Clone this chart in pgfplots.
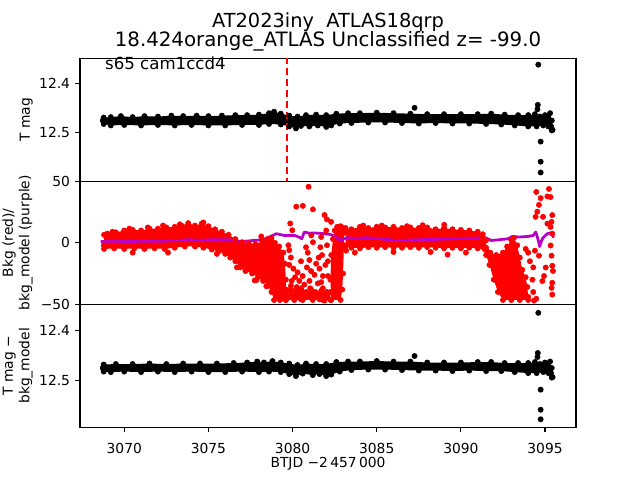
\documentclass[border=0pt]{standalone}
\usepackage{fontspec}
\setmainfont{DejaVu Sans}
\usepackage{pgfplots}
\usepackage{pgfplotstable}
\pgfplotsset{compat=1.18}
\definecolor{mplred}{RGB}{255,0,0}
\definecolor{mplpurple}{RGB}{185,0,200}

\pgfplotsset{
  panel/.style={
    scale only axis, width=4.96in, height=1.23in,
    anchor=south west,
    xmin=3067.37, xmax=3096.84,
    axis line style={line width=0.8pt},
    tick align=outside, major tick length=3.5pt,
    every tick/.style={black, line width=0.8pt},
    ytick pos=left, xtick pos=left,
    tick label style={font=\fontsize{10}{12}\selectfont},
    yticklabel style={anchor=east, inner sep=0pt, xshift=-3.5pt},
    xticklabel style={anchor=base, inner sep=0pt},
    ylabel style={at={(axis description cs:-0.0948,0.5)}, anchor=south,
      inner sep=0pt, align=center, font=\fontsize{10}{12}\selectfont},
  },
  dots/.style={only marks, mark=*, mark size=1.9pt},
}

% outline of the dense black band, T mag (top panel)
\pgfplotstableread{
x y
3068.72 12.475
3068.78 12.469
3069.2 12.468
3069.8 12.466
3070.5 12.468
3071.2 12.466
3072.0 12.467
3072.8 12.465
3073.5 12.466
3074.3 12.465
3075.0 12.466
3075.8 12.465
3076.6 12.464
3077.3 12.464
3078.0 12.463
3078.6 12.460
3078.9 12.457
3079.3 12.461
3079.8 12.465
3080.3 12.467
3080.8 12.464
3081.4 12.463
3082.0 12.464
3082.6 12.461
3083.3 12.460
3084.0 12.460
3085.0 12.459
3086.0 12.460
3087.0 12.461
3088.0 12.462
3089.0 12.462
3090.0 12.462
3091.0 12.462
3091.8 12.461
3092.6 12.463
3093.4 12.464
3094.0 12.464
3094.4 12.462
3094.7 12.467
3095.0 12.464
3095.3 12.460
3095.4 12.475
3095.35 12.486
3095.4 12.495
3095.2 12.487
3094.9 12.485
3094.5 12.487
3094.0 12.487
3093.2 12.485
3092.4 12.483
3091.5 12.482
3090.5 12.481
3089.5 12.481
3088.5 12.480
3087.5 12.481
3086.5 12.480
3085.5 12.479
3084.5 12.479
3083.5 12.480
3082.8 12.481
3082.3 12.485
3082.0 12.488
3081.5 12.485
3081.0 12.487
3080.5 12.486
3080.2 12.491
3079.8 12.487
3079.3 12.483
3078.6 12.482
3078.0 12.484
3077.0 12.484
3076.0 12.485
3075.0 12.485
3074.0 12.484
3073.0 12.485
3072.0 12.484
3071.0 12.485
3070.0 12.484
3069.2 12.485
3068.78 12.482
}\topband

% outline of the dense black band, T mag - bkg_model (bottom panel)
\pgfplotstableread{
x y
3068.72 12.475
3068.78 12.468
3069.5 12.467
3070.5 12.467
3071.5 12.466
3072.5 12.467
3073.5 12.466
3074.5 12.466
3075.5 12.466
3076.5 12.465
3077.3 12.464
3077.9 12.462
3078.3 12.464
3078.8 12.461
3079.3 12.464
3079.8 12.466
3080.3 12.469
3080.8 12.466
3081.4 12.467
3082.0 12.467
3082.6 12.463
3083.3 12.462
3084.0 12.462
3085.0 12.461
3086.0 12.462
3087.0 12.462
3088.0 12.464
3089.0 12.464
3090.0 12.464
3091.0 12.463
3091.8 12.463
3092.6 12.465
3093.4 12.465
3094.0 12.465
3094.4 12.463
3094.7 12.467
3095.0 12.464
3095.3 12.462
3095.4 12.475
3095.35 12.485
3095.4 12.494
3095.2 12.485
3094.9 12.483
3094.5 12.485
3094.0 12.485
3093.2 12.483
3092.4 12.481
3091.5 12.481
3090.5 12.480
3089.5 12.481
3088.5 12.480
3087.5 12.480
3086.5 12.479
3085.5 12.478
3084.5 12.478
3083.5 12.479
3082.8 12.482
3082.3 12.488
3082.0 12.491
3081.6 12.487
3081.2 12.489
3080.6 12.486
3080.2 12.491
3079.8 12.487
3079.3 12.483
3078.6 12.482
3078.0 12.483
3077.0 12.482
3076.0 12.483
3075.0 12.483
3074.0 12.482
3073.0 12.483
3072.0 12.482
3071.0 12.483
3070.0 12.482
3069.2 12.483
3068.78 12.482
}\botband

% dense parts of the red background cloud
\pgfplotstableread{
x y
3068.78 -2
3068.8 6.5
3069.0 7.5
3069.5 8.5
3070.0 10
3070.5 10.5
3071.0 10
3071.5 11.5
3072.0 11.5
3072.5 12.5
3073.0 13
3073.4 14
3073.8 16
3074.2 14
3074.6 15.5
3075.0 13.5
3075.4 11
3075.8 9
3076.2 6.5
3076.6 3
3077.0 0.5
3077.4 -0.5
3077.8 -1
3078.2 1
3078.5 3
3078.75 4
3078.95 0
3079.2 -3
3079.45 -8
3079.55 -17
3079.6 -30
3079.6 -46.5
3079.25 -46.5
3078.9 -46.5
3078.75 -40
3078.55 -35
3078.25 -31
3077.95 -28
3077.6 -25
3077.2 -23
3076.9 -20
3076.6 -15
3076.3 -12
3076.0 -9
3075.6 -7
3075.2 -5.5
3074.7 -4
3074.2 -3
3073.6 -3
3073.0 -4
3072.4 -5
3071.8 -4.5
3071.2 -5
3070.6 -4.5
3070.0 -5
3069.4 -4.5
3068.8 -5
}\redA
\pgfplotstableread{
x y
3079.6 -46.5
3079.6 -38
3079.9 -35
3080.2 -39
3080.5 -37
3080.8 -40
3081.1 -38
3081.4 -41
3081.7 -39
3082.0 -41
3082.25 -40
3082.25 -46.5
3081.8 -46.5
3081.2 -46.5
3080.6 -46.5
3080.1 -46.5
}\redB
\pgfplotstableread{
x y
3082.3 -46.5
3082.25 -30
3082.3 -10
3082.4 3
3082.5 10
3082.65 13
3082.85 13.5
3083.0 12
3083.05 8
3083.05 -2
3083.0 -25
3082.95 -38
3082.85 -46.5
}\redC
\pgfplotstableread{
x y
3083.15 12
3083.5 11
3084.0 13
3084.5 12
3085.0 13
3085.5 12.5
3086.0 13
3086.5 12
3087.0 12.5
3087.5 12
3088.0 12.5
3088.5 11
3089.0 12
3089.5 11
3090.0 10.5
3090.5 10
3091.0 9
3091.3 7
3091.5 2
3091.5 -6
3091.0 -4.5
3090.5 -4
3090.0 -4.5
3089.5 -4
3089.0 -4.5
3088.5 -4
3088.0 -3.5
3087.5 -4
3087.0 -3.5
3086.5 -4
3086.0 -4
3085.5 -3.5
3085.0 -4
3084.5 -3.5
3084.0 -4.5
3083.5 -4
3083.15 -3
}\redD
\pgfplotstableread{
x y
3091.3 4
3091.5 -4
3091.75 -8
3092.1 -10
3092.5 -8
3092.75 -3
3093.0 2
3093.15 4
3093.35 -2
3093.5 -12
3093.65 -22
3093.85 -28
3093.95 -36
3094.0 -44
3094.0 -46.5
3093.5 -46.5
3093.0 -46.5
3092.5 -46.5
3092.2 -40
3091.95 -30
3091.7 -18
3091.5 -10
3091.4 -5
}\redE

\begin{document}
\begin{tikzpicture}
\path[use as bounding box] (0,0) rectangle (6.4in,4.8in);

% ---- top panel: T mag
\begin{axis}[panel, name=top, at={(0.8in,2.987in)},
    y dir=reverse, ymin=12.348, ymax=12.599,
    ytick={12.4,12.5}, yticklabels={12.4,12.5},
    xtick=\empty, ylabel={T mag}]
  \addplot[fill=black, draw=none] table {\topband};
  \addplot[dots, black] table {\topband};
  \addplot[dots, black] coordinates {
    (3094.60,12.361) (3094.57,12.443) (3094.74,12.518) (3094.74,12.559)
    (3094.74,12.581) (3087.25,12.449) (3094.55,12.452) (3095.45,12.494)
  };
  \addplot[mplred, line width=1.5pt, dash pattern=on 5.55pt off 2.4pt]
    coordinates {(3079.69,12.30) (3079.69,12.65)};
\end{axis}

% ---- middle panel: background
\begin{axis}[panel, name=mid, at={(0.8in,1.757in)},
    ymin=-50, ymax=50,
    ytick={-50,0,50}, yticklabels={−50,0,50},
    xtick=\empty, ylabel={Bkg (red)/\\bkg\_model (purple)}]
  \addplot[fill=mplred, draw=none] table {\redA};
  \addplot[dots, mplred] table {\redA};
  \addplot[fill=mplred, draw=none] table {\redB};
  \addplot[dots, mplred] table {\redB};
  \addplot[fill=mplred, draw=none] table {\redC};
  \addplot[dots, mplred] table {\redC};
  \addplot[fill=mplred, draw=none] table {\redD};
  \addplot[dots, mplred] table {\redD};
  \addplot[fill=mplred, draw=none] table {\redE};
  \addplot[dots, mplred] table {\redE};
  % scattered background points
  \addplot[dots, mplred] coordinates {
    (3069.3,9) (3070.3,11.5) (3071.4,12.5) (3072.3,14) (3073.3,15)
    (3074.7,16.5) (3070.5,-8) (3072.6,-8)
    (3075.5,-9) (3076.7,-20) (3077.75,-30.6) (3077.85,-30.3)
    (3078.14,5.2) (3078.44,-35.3)
    (3079.86,15.7) (3079.98,10.2) (3080.22,29.4) (3080.61,30.0)
    (3080.95,45.6) (3081.21,27.2) (3081.90,22.6) (3082.04,19.0)
    (3082.29,17.0)
    (3079.75,-2) (3079.8,-6) (3079.9,-12) (3079.8,-18) (3080.05,-21)
    (3080.3,-24) (3080.15,-28) (3079.95,-31) (3080.4,-31) (3080.25,-36)
    (3080.5,-38) (3080.1,-41) (3079.85,-44) (3080.5,-46) (3080.8,-3.6)
    (3080.9,-8) (3081.0,-14) (3080.85,-20) (3081.1,-23) (3081.0,-31)
    (3081.05,-37) (3080.8,-44) (3081.3,-26) (3081.4,-17) (3081.35,-40)
    (3081.55,-12) (3081.5,-33) (3081.6,-46) (3081.7,4.7) (3081.65,-3.6)
    (3081.75,-10) (3081.6,-21) (3081.8,-27) (3081.7,-32) (3081.8,-37)
    (3081.65,-43) (3081.9,-47) (3082.0,10) (3082.05,-2) (3082.1,-15)
    (3081.95,-18) (3082.1,-27) (3082.05,-40) (3080.5,-15) (3080.6,-27)
    (3080.7,-34) (3081.11,6.0) (3081.21,0.5)
    (3083.18,-6.4) (3083.7,-8) (3084.2,14) (3085.3,14) (3086.0,-7.5)
    (3086.8,13.5) (3087.73,14.3) (3088.2,-7.5) (3089.01,14.6)
    (3089.21,-9.6) (3090.3,-8)
    (3093.85,-5) (3094.0,-8) (3094.1,-15) (3094.3,-20) (3094.25,-30)
    (3094.3,-40) (3094.35,-47)
    (3094.40,-6.4) (3094.44,21.1) (3094.48,41.3) (3094.48,-45.5)
    (3094.54,25.3) (3094.64,30.8) (3094.64,-10.5) (3094.74,36.3)
    (3094.84,-31.1) (3094.88,21.1) (3094.94,-27.0) (3095.04,-20.1)
    (3095.14,15.6) (3095.14,37.7) (3095.23,43.8) (3095.33,37.2)
    (3095.33,12.9) (3095.33,-2.2) (3095.39,17.0) (3095.39,-10.5)
    (3095.39,-36.6) (3095.43,22.5) (3095.43,7.4) (3095.43,-18.7)
    (3095.43,-32.5) (3095.43,-42.1) (3095.47,-22.9)
  };
  % background model
  \addplot[mplpurple, line width=2pt, line join=round] coordinates {
    (3068.6,1.0) (3069.3,1.3) (3070.2,1.0) (3071.2,1.3) (3072.2,1.3)
    (3073.0,1.8) (3073.8,2.5) (3074.5,2.0) (3075.2,2.5) (3076.2,2.5)
    (3076.7,1.5) (3077.0,1.0) (3077.75,2.0) (3078.2,2.5) (3078.54,4.1)
    (3079.03,7.4) (3079.5,6.0) (3080.12,6.0) (3080.4,4.5) (3080.55,3.3)
    (3080.7,8.8) (3081.0,7.8) (3081.3,8.0) (3081.8,7.5) (3082.2,6.9)
    (3082.5,5.5) (3082.69,3.3) (3082.9,1.9) (3083.2,4.1) (3083.8,3.5)
    (3084.37,4.1) (3085.2,3.3) (3086.15,1.9) (3087.53,2.5) (3088.5,2.8)
    (3089.5,3.3) (3090.5,3.6) (3091.48,4.1) (3091.8,1.9) (3092.3,2.5)
    (3092.8,3.3) (3093.06,5.2) (3093.46,4.7) (3094.0,5.2) (3094.3,6.0)
    (3094.45,8.8) (3094.6,2.0) (3094.68,-3.1) (3094.8,2.0) (3094.88,4.1)
    (3095.14,7.4) (3095.33,8.0) (3095.43,7.5) (3095.5,4.1)
  };
\end{axis}

% ---- bottom panel: T mag minus model
\begin{axis}[panel, name=bot, at={(0.8in,0.527in)},
    y dir=reverse, ymin=12.348, ymax=12.593,
    ytick={12.4,12.5}, yticklabels={12.4,12.5},
    xtick={3070,3075,3080,3085,3090,3095},
    xticklabels={3070,3075,3080,3085,3090,3095},
    xticklabel style={yshift=-15.2pt},
    xlabel={BTJD −2\,457\,000},
    xlabel style={at={(axis description cs:0.5,0)}, anchor=base,
      inner sep=0pt, yshift=-28.9pt, font=\fontsize{10}{12}\selectfont},
    ylabel={T mag −\\bkg\_model}]
  \addplot[fill=black, draw=none] table {\botband};
  \addplot[dots, black] table {\botband};
  \addplot[dots, black] coordinates {
    (3094.60,12.365) (3094.57,12.445) (3094.74,12.518) (3094.74,12.558)
    (3094.74,12.577) (3087.25,12.451) (3094.55,12.453) (3095.45,12.493)
  };
\end{axis}

\node[anchor=base, inner sep=0pt, font=\fontsize{14}{16}\selectfont]
  at ([yshift=22.5pt]top.north) {AT2023iny\ \ ATLAS18qrp};
\node[anchor=base, inner sep=0pt, font=\fontsize{14.3}{16}\selectfont]
  at ([yshift=8.6pt]top.north) {18.424orange\_ATLAS Unclassified z= -99.0};
\node[anchor=base west, inner sep=0pt, font=\fontsize{12}{14}\selectfont]
  at ([xshift=18pt,yshift=-8.4pt]top.north west) {s65 cam1ccd4};
\end{tikzpicture}
\end{document}
